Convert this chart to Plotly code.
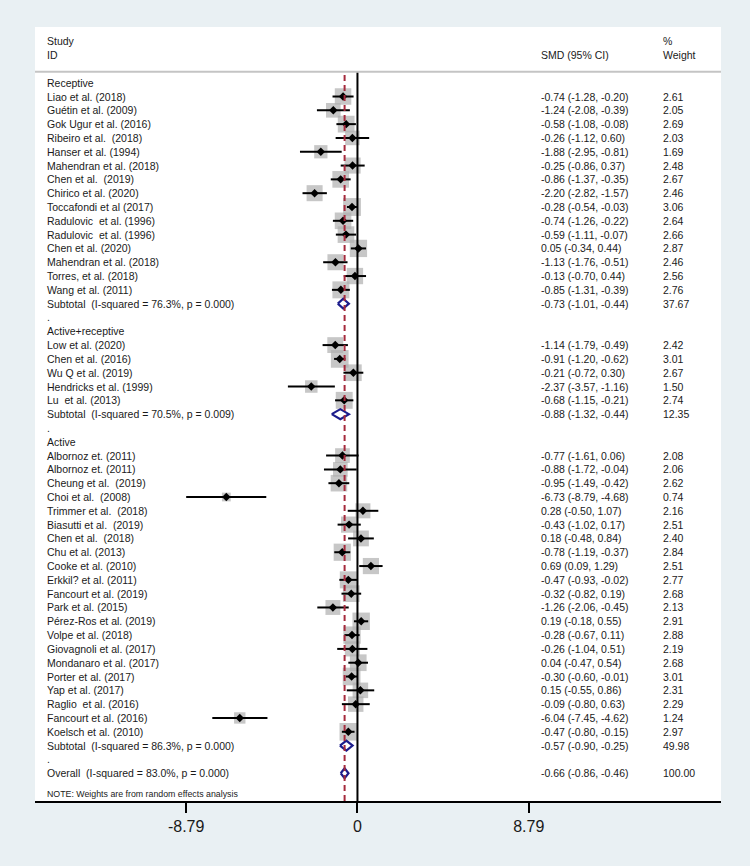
import plotly.graph_objects as go
import numpy as np

# ---------------- data ----------------
group_names = ["Receptive", "Active+receptive", "Active"]

receptive_studies = ["Liao et al. (2018)", "Guétin et al. (2009)", "Gok Ugur et al. (2016)",
                     "Ribeiro et al.  (2018)", "Hanser et al. (1994)", "Mahendran et al. (2018)",
                     "Chen et al.  (2019)", "Chirico et al. (2020)", "Toccafondi et al (2017)",
                     "Radulovic  et al. (1996)", "Radulovic  et al. (1996)", "Chen et al. (2020)",
                     "Mahendran et al. (2018)", "Torres, et al. (2018)", "Wang et al. (2011)"]
receptive_smd = [-0.74, -1.24, -0.58, -0.26, -1.88, -0.25, -0.86, -2.20, -0.28, -0.74, -0.59, 0.05, -1.13, -0.13, -0.85]
receptive_lo = [-1.28, -2.08, -1.08, -1.12, -2.95, -0.86, -1.37, -2.82, -0.54, -1.26, -1.11, -0.34, -1.76, -0.70, -1.31]
receptive_hi = [-0.20, -0.39, -0.08, 0.60, -0.81, 0.37, -0.35, -1.57, -0.03, -0.22, -0.07, 0.44, -0.51, 0.44, -0.39]
receptive_w = [2.61, 2.05, 2.69, 2.03, 1.69, 2.48, 2.67, 2.46, 3.06, 2.64, 2.66, 2.87, 2.46, 2.56, 2.76]

actrec_studies = ["Low et al. (2020)", "Chen et al. (2016)", "Wu Q et al. (2019)",
                  "Hendricks et al. (1999)", "Lu  et al. (2013)"]
actrec_smd = [-1.14, -0.91, -0.21, -2.37, -0.68]
actrec_lo = [-1.79, -1.20, -0.72, -3.57, -1.15]
actrec_hi = [-0.49, -0.62, 0.30, -1.16, -0.21]
actrec_w = [2.42, 3.01, 2.67, 1.50, 2.74]

active_studies = ["Albornoz et. (2011)", "Albornoz et. (2011)", "Cheung et al.  (2019)",
                  "Choi et al.  (2008)", "Trimmer et al.  (2018)", "Biasutti et al.  (2019)",
                  "Chen et al.  (2018)", "Chu et al. (2013)", "Cooke et al. (2010)",
                  "Erkkil? et al. (2011)", "Fancourt et al. (2019)", "Park et al. (2015)",
                  "Pérez-Ros et al. (2019)", "Volpe et al. (2018)", "Giovagnoli et al. (2017)",
                  "Mondanaro et al. (2017)", "Porter et al. (2017)", "Yap et al. (2017)",
                  "Raglio  et al. (2016)", "Fancourt et al. (2016)", "Koelsch et al. (2010)"]
active_smd = [-0.77, -0.88, -0.95, -6.73, 0.28, -0.43, 0.18, -0.78, 0.69, -0.47, -0.32, -1.26,
              0.19, -0.28, -0.26, 0.04, -0.30, 0.15, -0.09, -6.04, -0.47]
active_lo = [-1.61, -1.72, -1.49, -8.79, -0.50, -1.02, -0.48, -1.19, 0.09, -0.93, -0.82, -2.06,
             -0.18, -0.67, -1.04, -0.47, -0.60, -0.55, -0.80, -7.45, -0.80]
active_hi = [0.06, -0.04, -0.42, -4.68, 1.07, 0.17, 0.84, -0.37, 1.29, -0.02, 0.19, -0.45,
             0.55, 0.11, 0.51, 0.54, -0.01, 0.86, 0.63, -4.62, -0.15]
active_w = [2.08, 2.06, 2.62, 0.74, 2.16, 2.51, 2.40, 2.84, 2.51, 2.77, 2.68, 2.13,
            2.91, 2.88, 2.19, 2.68, 3.01, 2.31, 2.29, 1.24, 2.97]

subtotal_isq = ["76.3%", "70.5%", "86.3%"]
subtotal_p = ["0.000", "0.009", "0.000"]
subtotal_smd = [-0.73, -0.88, -0.57]
subtotal_lo = [-1.01, -1.32, -0.90]
subtotal_hi = [-0.44, -0.44, -0.25]
subtotal_w = [37.67, 12.35, 49.98]

overall_isq, overall_p = "83.0%", "0.000"
overall_smd, overall_lo, overall_hi, overall_w = -0.66, -0.86, -0.46, 100.00

tick_vals = [-8.79, 0, 8.79]
tick_text = ["-8.79", "0", "8.79"]

# ---------------- layout constants ----------------
W, H = 750, 866
PX_LEFT, PX_RIGHT = 35, 721.5
PX_TOP, PX_BOTTOM = 27, 801
PX_ZERO, PX_PER_UNIT = 357.7, 19.5
ROW0, ROW_STEP = 82.7, 13.81
BG = "#e9f0f3"


def px2x(px):
    return (px - PX_ZERO) / PX_PER_UNIT


def py2row(py):
    return (py - ROW0) / ROW_STEP


X_LABEL, X_EST, X_WT = px2x(46.5), px2x(540), px2x(662)
FONT = "Liberation Sans, Arial, sans-serif"
TXT = "#1a1a1a"
FS = 10.5

groups = [
    (receptive_studies, receptive_smd, receptive_lo, receptive_hi, receptive_w),
    (actrec_studies, actrec_smd, actrec_lo, actrec_hi, actrec_w),
    (active_studies, active_smd, active_lo, active_hi, active_w),
]

annotations = []


def txt(x, y, s, size=FS):
    annotations.append(dict(x=x, y=y, xref="x", yref="y", text=s, showarrow=False,
                            xanchor="left", yanchor="middle", borderpad=0,
                            font=dict(family=FONT, size=size, color=TXT)))


def fmt(e, l, h):
    return f"{e:.2f} ({l:.2f}, {h:.2f})"


# header
txt(X_LABEL, py2row(40.7), "Study")
txt(X_LABEL, py2row(55), "ID")
txt(X_EST, py2row(55), "SMD (95% CI)")
txt(X_WT, py2row(40.7), "%")
txt(X_WT, py2row(55), "Weight")

ci_x, ci_y = [], []
pt_x, pt_y = [], []
sq_x, sq_y, sq_s = [], [], []
dia_x, dia_y = [], []
HALF_H = 0.36

row = 0
for gi, (studies, smd, lo, hi, wt) in enumerate(groups):
    txt(X_LABEL, row, group_names[gi])
    row += 1
    for s, e, l, h, w in zip(studies, smd, lo, hi, wt):
        txt(X_LABEL, row, s)
        txt(X_EST, row, fmt(e, l, h))
        txt(X_WT, row, f"{w:.2f}")
        sq_x.append(e); sq_y.append(row); sq_s.append(16.5 * np.sqrt(w / 2.61))
        ci_x += [l, h, None]; ci_y += [row, row, None]
        pt_x.append(e); pt_y.append(row)
        row += 1
    txt(X_LABEL, row, f"Subtotal  (I-squared = {subtotal_isq[gi]}, p = {subtotal_p[gi]})")
    txt(X_EST, row, fmt(subtotal_smd[gi], subtotal_lo[gi], subtotal_hi[gi]))
    txt(X_WT, row, f"{subtotal_w[gi]:.2f}")
    dia_x += [subtotal_lo[gi], subtotal_smd[gi], subtotal_hi[gi], subtotal_smd[gi], subtotal_lo[gi], None]
    dia_y += [row, row - HALF_H, row, row + HALF_H, row, None]
    row += 1
    txt(X_LABEL, row, ".")
    row += 1

txt(X_LABEL, row, f"Overall  (I-squared = {overall_isq}, p = {overall_p})")
txt(X_EST, row, fmt(overall_smd, overall_lo, overall_hi))
txt(X_WT, row, f"{overall_w:.2f}")
dia_x += [overall_lo, overall_smd, overall_hi, overall_smd, overall_lo, None]
dia_y += [row, row - HALF_H, row, row + HALF_H, row, None]

txt(X_LABEL, py2row(794.3), "NOTE: Weights are from random effects analysis", size=8.8)

y_top, y_bot = py2row(PX_TOP), py2row(PX_BOTTOM)

fig = go.Figure()
fig.add_trace(go.Scatter(x=sq_x, y=sq_y, mode="markers", hoverinfo="skip",
                         marker=dict(symbol="square", size=sq_s, color="#afafaf", line=dict(width=0))))
fig.add_trace(go.Scatter(x=ci_x, y=ci_y, mode="lines", hoverinfo="skip",
                         line=dict(color="black", width=2)))
fig.add_trace(go.Scatter(x=pt_x, y=pt_y, mode="markers", hoverinfo="skip",
                         marker=dict(symbol="diamond", size=6.5, color="black")))
fig.add_trace(go.Scatter(x=dia_x, y=dia_y, mode="lines", hoverinfo="skip",
                         line=dict(color="#1c1c8c", width=2.2)))

shapes = [
    # header separator
    dict(type="line", xref="paper", yref="y", x0=0, x1=1, y0=py2row(71.7), y1=py2row(71.7),
         line=dict(color="#c4c4c4", width=2)),
    # null line
    dict(type="line", xref="x", yref="y", x0=0, x1=0, y0=py2row(72.7), y1=y_bot,
         line=dict(color="black", width=2)),
    # overall estimate line
    dict(type="line", xref="x", yref="y", x0=overall_smd, x1=overall_smd, y0=py2row(75), y1=y_bot,
         line=dict(color="#a52a3c", width=2, dash="6px,4px")),
]

fig.update_layout(
    width=W, height=H,
    margin=dict(l=PX_LEFT, r=W - PX_RIGHT, t=PX_TOP, b=H - PX_BOTTOM, pad=0),
    paper_bgcolor=BG, plot_bgcolor="white",
    showlegend=False,
    annotations=annotations,
    shapes=shapes,
    xaxis=dict(range=[px2x(PX_LEFT), px2x(PX_RIGHT)], tickvals=tick_vals, ticktext=tick_text,
               ticks="outside", ticklen=10, tickwidth=2, tickcolor="black",
               showline=True, linecolor="black", linewidth=2, showgrid=False, zeroline=False,
               tickfont=dict(family=FONT, size=16, color=TXT), fixedrange=True),
    yaxis=dict(range=[y_bot, y_top], visible=False, showgrid=False, zeroline=False, fixedrange=True),
)

fig.write_html("out.html",
               config={"displayModeBar": False},
               post_script="document.body.style.margin='0';document.body.style.overflow='hidden';"
                           "document.body.style.background='" + BG + "';")
